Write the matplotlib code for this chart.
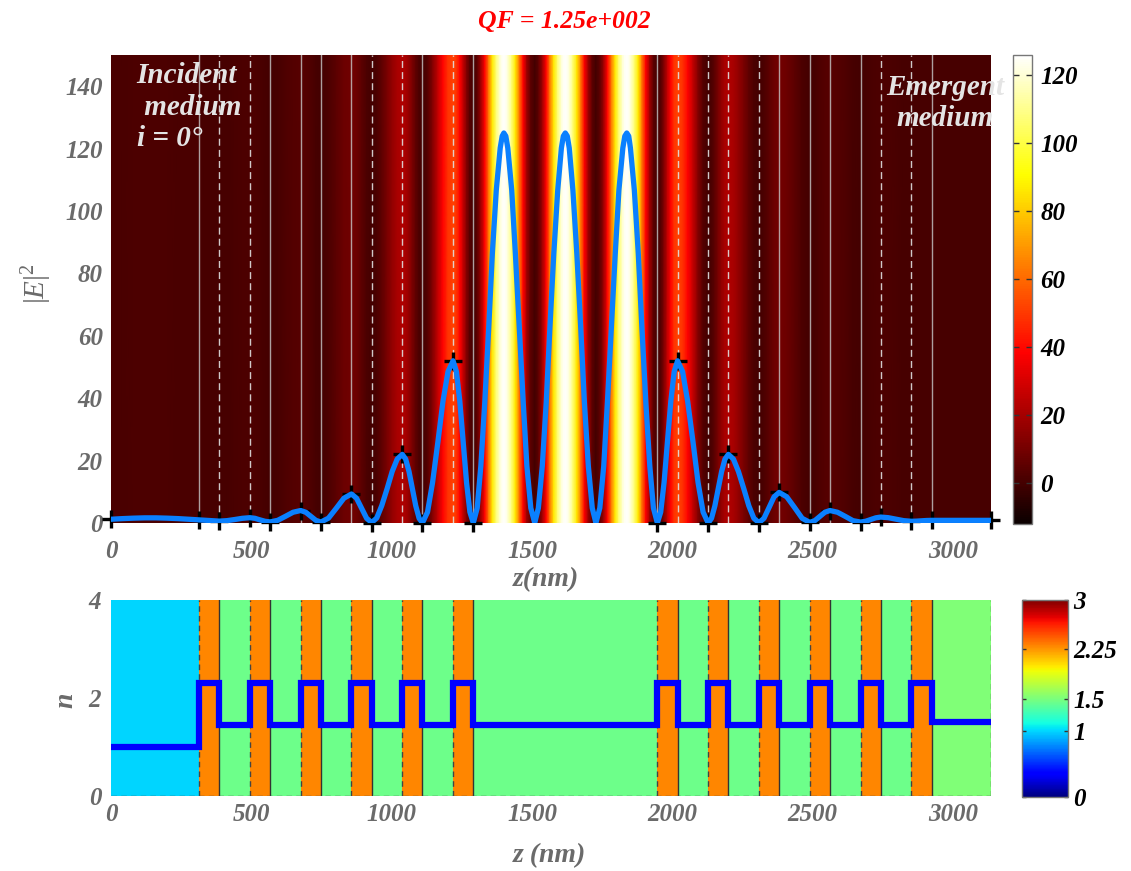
import numpy as np
import matplotlib
matplotlib.use('Agg')
import matplotlib.pyplot as plt
from matplotlib.colors import Normalize
import matplotlib.cm as cm

# ---------------- data ----------------
# layer boundaries (nm) and refractive index of each layer
boundaries = [0, 314, 386, 495, 567, 676, 748, 857, 929, 1038, 1110, 1219, 1291,
              1947, 2019, 2128, 2200, 2309, 2381, 2490, 2562, 2671, 2743, 2852, 2924, 3136]
n_layers = [1.0, 2.3, 1.45, 2.3, 1.45, 2.3, 1.45, 2.3, 1.45, 2.3, 1.45, 2.3,
            1.45,
            2.3, 1.45, 2.3, 1.45, 2.3, 1.45, 2.3, 1.45, 2.3, 1.45, 2.3, 1.52]

# |E|^2 profile samples read along z
z_pts = [0, 40, 80, 120, 160, 200, 240, 280, 314,
         332, 350, 368, 386,
         413, 440, 468, 495,
         513, 531, 549, 567,
         594, 622, 649, 676,
         694, 712, 730, 748,
         775, 803, 830, 857,
         875, 893, 911, 929,
         947, 965, 984, 1002, 1020, 1038,
         1050, 1062, 1074, 1086, 1098, 1110,
         1128, 1146, 1165, 1183, 1201, 1219,
         1231, 1243, 1255, 1267, 1279, 1291,
         1305, 1318, 1332, 1346, 1359, 1373, 1387, 1394, 1400, 1407, 1414, 1428, 1441, 1455, 1469, 1482, 1496, 1510,
         1523, 1537, 1551, 1564, 1578, 1592, 1605, 1612, 1619, 1626, 1633, 1646, 1660, 1674, 1687, 1701, 1715, 1728,
         1742, 1756, 1769, 1783, 1797, 1810, 1824, 1831, 1838, 1845, 1851, 1865, 1879, 1892, 1906, 1920, 1933, 1947,
         1959, 1971, 1983, 1995, 2007, 2019,
         2037, 2055, 2074, 2092, 2110, 2128,
         2140, 2152, 2164, 2176, 2188, 2200,
         2218, 2236, 2255, 2273, 2291, 2309,
         2327, 2345, 2363, 2381,
         2408, 2436, 2463, 2490,
         2508, 2526, 2544, 2562,
         2589, 2617, 2644, 2671,
         2689, 2707, 2725, 2743,
         2770, 2798, 2825, 2852,
         2870, 2888, 2906, 2924,
         3136]
e2_pts = [1.2, 1.4, 1.55, 1.65, 1.65, 1.55, 1.4, 1.2, 1.0,
          0.9, 0.8, 0.7, 0.6,
          0.75, 1.1, 1.5, 1.7,
          1.5, 1.0, 0.55, 0.35,
          0.85, 2.15, 3.45, 4.0,
          3.45, 2.15, 0.85, 0.3,
          1.55, 4.75, 7.95, 9.3,
          7.95, 4.75, 1.5, 0.15,
          1.6, 5.6, 11.0, 16.5, 20.5, 22.0,
          20.5, 16.5, 11.0, 5.5, 1.5, 0.05,
          3.5, 13.0, 26.0, 39.0, 48.5, 52.0,
          48.5, 39.0, 26.0, 13.0, 3.5, 0.0,
          4.8, 18.3, 38.6, 62.5, 86.4, 106.7, 120.2, 124.0, 125.0, 124.0, 120.2, 106.7, 86.4, 62.5, 38.6, 18.3, 4.8, 0.0,
          4.8, 18.3, 38.6, 62.5, 86.4, 106.7, 120.2, 124.0, 125.0, 124.0, 120.2, 106.7, 86.4, 62.5, 38.6, 18.3, 4.8, 0.0,
          4.8, 18.3, 38.6, 62.5, 86.4, 106.7, 120.2, 124.0, 125.0, 124.0, 120.2, 106.7, 86.4, 62.5, 38.6, 18.3, 4.8, 0.0,
          3.5, 13.0, 26.0, 39.0, 48.5, 52.0,
          48.5, 39.0, 26.0, 13.0, 3.5, 0.0,
          1.5, 5.5, 11.0, 16.5, 20.5, 22.0,
          20.5, 16.5, 11.0, 5.5, 1.5, 0.1,
          1.5, 4.95, 8.4, 9.8,
          8.4, 4.95, 1.5, 0.2,
          0.75, 2.1, 3.45, 4.0,
          3.45, 2.1, 0.75, 0.3,
          0.55, 1.1, 1.65, 1.9,
          1.7, 1.2, 0.75, 0.55,
          0.6, 0.7, 0.8, 0.85,
          0.85]
# |E|^2 at each boundary (black markers)
e2_bound = [1.2, 1.0, 0.6, 1.7, 0.35, 4.0, 0.3, 9.3, 0.15, 22.0, 0.05, 52.0, 0.0,
            0.0, 52.0, 0.0, 22.0, 0.1, 9.8, 0.2, 4.0, 0.3, 1.9, 0.55, 0.85, 0.85]
# style of the white guide line drawn at each interior boundary of the upper panel
guide_styles = ['solid', 'dashed', 'dashed', 'solid', 'solid', 'solid', 'solid', 'dashed',
                'dashed', 'solid', 'dashed', 'solid',
                'solid', 'dashed', 'dashed', 'dashed', 'dashed', 'solid', 'solid', 'solid',
                'solid', 'dashed', 'dashed', 'solid']

xticks = [0, 500, 1000, 1500, 2000, 2500, 3000]
yticks_top = [0, 20, 40, 60, 80, 100, 120, 140]
yticks_bot = [0, 2, 4]
cb1_ticks = [0, 20, 40, 60, 80, 100, 120]
cb2_ticks = [0, 1, 1.5, 2.25, 3]
cb2_labels = ['0', '1', '1.5', '2.25', '3']
qf_title = 'QF = 1.25e+002'

# ---------------- styling ----------------
plt.rcParams['font.family'] = ['Liberation Serif', 'DejaVu Serif']
plt.rcParams['mathtext.fontset'] = 'custom'
plt.rcParams['mathtext.rm'] = 'Liberation Serif'
plt.rcParams['mathtext.it'] = 'Liberation Serif:italic'
plt.rcParams['mathtext.bf'] = 'Liberation Serif:bold'

W, H = 1131, 871
fig = plt.figure(figsize=(W / 100, H / 100), dpi=100)

def box(l, t, r, b):
    return [l / W, 1 - b / H, (r - l) / W, (b - t) / H]

GRAY = '#6a6a6a'
tickfont = dict(family='Liberation Serif', weight='bold', style='italic', size=18)

zmax = boundaries[-1]

# ---------------- upper panel ----------------
ax1 = fig.add_axes(box(111, 55, 991, 523))
zz = np.array(z_pts, dtype=float)
ee = np.array(e2_pts, dtype=float)
X = np.vstack([zz, zz])
Y = np.vstack([np.zeros_like(zz), np.full_like(zz, 150.0)])
C = np.vstack([ee, ee])
norm1 = Normalize(vmin=-12, vmax=126)
mesh = ax1.pcolormesh(X, Y, C, cmap='hot', norm=norm1, shading='gouraud', zorder=0)

for b, st in zip(boundaries[1:-1], guide_styles):
    if st == 'solid':
        ax1.axvline(b, color='#c8c8c8', lw=1.0, alpha=0.8, zorder=1)
    else:
        ax1.axvline(b, color='#e0e0e0', lw=1.0, alpha=0.9, zorder=1,
                    linestyle=(0, (5, 3)))

ax1.plot(boundaries, e2_bound, '+', color='k', ms=13, mew=2.4, clip_on=False, zorder=3)
ax1.plot(zz, ee, color='#0a80ff', lw=3.8, zorder=4, solid_joinstyle='round',
         solid_capstyle='round')

ax1.set_xlim(0, zmax)
ax1.set_ylim(0, 150)
ax1.set_xticks(xticks)
ax1.set_yticks(yticks_top)
ax1.set_xticklabels([str(t) for t in xticks], fontdict=tickfont, color=GRAY)
ax1.set_yticklabels([str(t) for t in yticks_top], fontdict=tickfont, color=GRAY)
ax1.tick_params(axis='x', length=0, pad=12)
ax1.tick_params(axis='y', length=0, pad=6)
for s in ax1.spines.values():
    s.set_visible(False)

ax1.text(0.029, 0.985, 'Incident\n medium\ni = 0°', transform=ax1.transAxes,
         ha='left', va='top', color='#e4e4e4', fontsize=21, fontweight='bold',
         fontstyle='italic', linespacing=1.22, zorder=5)
ax1.text(0.948, 0.96, 'Emergent\nmedium', transform=ax1.transAxes,
         ha='center', va='top', color='#e4e4e4', fontsize=21, fontweight='bold',
         fontstyle='italic', linespacing=1.22, zorder=5, clip_on=False)

fig.text(564 / W, 1 - 22 / H, qf_title, color='#ff0000', ha='center', va='center',
         fontsize=18.5, fontweight='bold', fontstyle='italic')
fig.text(37 / W, 1 - 284 / H, r'$|E|^2$', color=GRAY, ha='center', va='center',
         fontsize=21, rotation=90)
fig.text(546 / W, 1 - 580 / H, 'z(nm)', color=GRAY, ha='center', va='center',
         fontsize=20, fontweight='bold', fontstyle='italic')

# colorbar of upper panel
cax1 = fig.add_axes(box(1013, 55, 1032, 524))
cb1 = fig.colorbar(cm.ScalarMappable(norm=norm1, cmap='hot'), cax=cax1)
cb1.set_ticks(cb1_ticks)
cb1.set_ticklabels([str(t) for t in cb1_ticks])
for lab in cax1.get_yticklabels():
    lab.set_fontproperties(matplotlib.font_manager.FontProperties(**tickfont))
    lab.set_color('k')
cax1.tick_params(axis='y', direction='in', length=4, width=1, color='#333333',
                 left=True, right=True, pad=6)
cb1.outline.set_edgecolor('#777777')
cb1.outline.set_linewidth(1)

# ---------------- lower panel ----------------
ax2 = fig.add_axes(box(111, 600, 991, 796))
norm2 = Normalize(vmin=0, vmax=3)
ax2.pcolormesh(np.array(boundaries, dtype=float), np.array([0.0, 4.0]),
               np.array([n_layers]), cmap='jet', norm=norm2, zorder=0)
# layer edges: dashed at the start of each high-index layer, solid at its end
for i, nv in enumerate(n_layers):
    if nv == 2.3:
        ax2.axvline(boundaries[i], color='#444444', lw=1.0, linestyle=(0, (4, 3)), zorder=1)
        ax2.axvline(boundaries[i + 1], color='#333333', lw=1.0, zorder=1)
ax2.axhline(0, color='#555555', lw=1.0, linestyle=(0, (4, 3)), zorder=1)
ax2.axvline(zmax, color='#555555', lw=1.0, linestyle=(0, (4, 3)), zorder=1)
ax2.stairs(n_layers, boundaries, color='#0000ff', lw=4.5, baseline=None, zorder=3)
ax2.set_xlim(0, zmax)
ax2.set_ylim(0, 4)
ax2.set_xticks(xticks)
ax2.set_yticks(yticks_bot)
ax2.set_xticklabels([str(t) for t in xticks], fontdict=tickfont, color=GRAY)
ax2.set_yticklabels([str(t) for t in yticks_bot], fontdict=tickfont, color=GRAY)
ax2.tick_params(axis='x', length=0, pad=5)
ax2.tick_params(axis='y', length=0, pad=7)
for s in ax2.spines.values():
    s.set_visible(False)

fig.text(66 / W, 1 - 700 / H, 'n', color=GRAY, ha='center', va='center', rotation=90,
         fontsize=20, fontweight='bold', fontstyle='italic')
fig.text(549 / W, 1 - 856 / H, 'z (nm)', color=GRAY, ha='center', va='center',
         fontsize=20, fontweight='bold', fontstyle='italic')

cax2 = fig.add_axes(box(1022, 600, 1068, 797))
cb2 = fig.colorbar(cm.ScalarMappable(norm=norm2, cmap='jet'), cax=cax2)
cb2.set_ticks(cb2_ticks)
cb2.set_ticklabels(cb2_labels)
for lab in cax2.get_yticklabels():
    lab.set_fontproperties(matplotlib.font_manager.FontProperties(**tickfont))
    lab.set_color('k')
cax2.tick_params(axis='y', direction='in', length=3, width=1, color='#333333',
                 left=True, right=True, pad=4)
cb2.outline.set_edgecolor('#777777')
cb2.outline.set_linewidth(1)

fig.savefig('out.png', dpi=100)
